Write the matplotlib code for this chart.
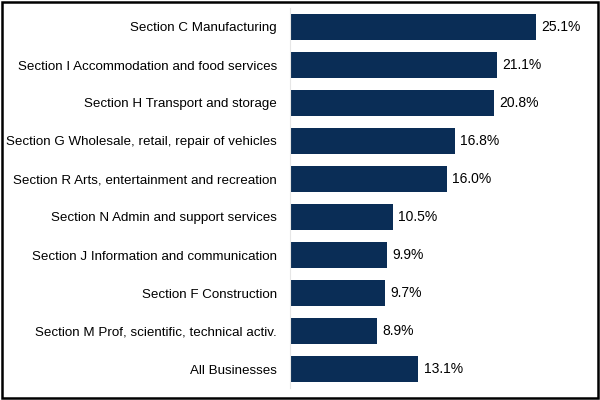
import matplotlib
matplotlib.use('Agg')
import matplotlib.pyplot as plt
from matplotlib.patches import Rectangle

plt.rcParams['font.family'] = ['Liberation Sans', 'DejaVu Sans']

sections = ['Section C Manufacturing',
            'Section I Accommodation and food services',
            'Section H Transport and storage',
            'Section G Wholesale, retail, repair of vehicles',
            'Section R Arts, entertainment and recreation',
            'Section N Admin and support services',
            'Section J Information and communication',
            'Section F Construction',
            'Section M Prof, scientific, technical activ.',
            'All Businesses']
shares = [25.1, 21.1, 20.8, 16.8, 16.0, 10.5, 9.9, 9.7, 8.9, 13.1]

fig = plt.figure(figsize=(6, 4), dpi=100)
ax = fig.add_axes([0.4833, 0.03, 0.49, 0.95])

ypos = list(range(len(sections)))
ax.barh(ypos, shares, height=0.68, color='#0a2d56')
for y, v in zip(ypos, shares):
    ax.text(v + 0.55, y, '%.1f%%' % v, va='center', ha='left', fontsize=10)

ax.set_yticks(ypos)
ax.set_yticklabels(sections, fontsize=9.6)
ax.set_ylim(len(sections) - 0.5, -0.5)
ax.set_xlim(0, 30)
ax.set_xticks([])
ax.tick_params(axis='y', length=0, pad=9.4)
for s in ['top', 'right', 'bottom']:
    ax.spines[s].set_visible(False)
ax.spines['left'].set_color('#e6e6e6')
ax.spines['left'].set_linewidth(0.8)

# black frame round the whole picture
fig.patches.append(Rectangle((0.003, 0.004), 0.994, 0.991, transform=fig.transFigure,
                             fill=False, edgecolor='black', linewidth=1.8))

fig.savefig('out.png', dpi=100)
